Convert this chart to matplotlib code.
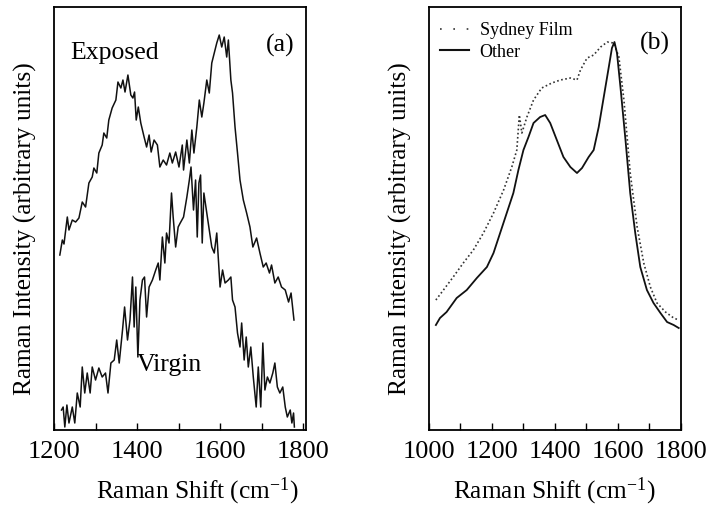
import numpy as np
import matplotlib
matplotlib.use("Agg")
import matplotlib.pyplot as plt
from matplotlib.lines import Line2D
from matplotlib.ticker import MultipleLocator

plt.rcParams["font.family"] = ["Liberation Serif", "DejaVu Serif"]
plt.rcParams["mathtext.fontset"] = "stix"

# panel (a): exposed and virgin film spectra (arbitrary units)
exposed_x = [1214, 1220, 1224, 1232, 1236, 1244, 1252, 1260, 1268, 1276, 1284, 1292,
             1296, 1303, 1308, 1316, 1320, 1327, 1332, 1340, 1349, 1354, 1361, 1366,
             1371, 1378, 1385, 1390, 1394, 1398, 1403, 1409, 1417, 1423, 1429, 1434,
             1441, 1449, 1455, 1463, 1471, 1479, 1485, 1493, 1501, 1509, 1512, 1520,
             1526, 1532, 1537, 1544, 1550, 1556, 1561, 1568, 1574, 1580, 1586, 1592,
             1598, 1604, 1610, 1616, 1620, 1626, 1630, 1636, 1642, 1648, 1656, 1664,
             1672, 1679, 1688, 1696, 1704, 1711, 1719, 1724, 1732, 1740, 1748, 1757,
             1765, 1771, 1778]
exposed_y = [175, 190, 186, 213, 200, 210, 208, 212, 228, 223, 247, 253,
             262, 257, 277, 285, 297, 292, 310, 322, 330, 348, 342, 350,
             338, 355, 335, 332, 338, 310, 323, 307, 293, 283, 295, 278,
             290, 285, 263, 270, 265, 277, 267, 278, 263, 285, 260, 290,
             267, 300, 277, 303, 330, 313, 327, 350, 337, 367, 377, 387,
             395, 383, 393, 373, 390, 350, 337, 303, 277, 250, 230, 217,
             203, 183, 192, 177, 163, 167, 157, 165, 147, 153, 143, 140,
             128, 137, 110]

virgin_x = [1218, 1222, 1226, 1231, 1236, 1244, 1250, 1256, 1263, 1268, 1274, 1280,
            1287, 1292, 1300, 1308, 1316, 1324, 1330, 1337, 1345, 1351, 1357, 1365,
            1370, 1377, 1383, 1389, 1393, 1397, 1402, 1407, 1413, 1418, 1423, 1429,
            1437, 1445, 1451, 1455, 1461, 1467, 1471, 1477, 1483, 1487, 1493, 1499,
            1504, 1512, 1520, 1526, 1530, 1536, 1541, 1545, 1549, 1553, 1557, 1561,
            1568, 1574, 1580, 1586, 1592, 1596, 1600, 1606, 1612, 1620, 1626, 1630,
            1636, 1642, 1648, 1652, 1658, 1663, 1668, 1674, 1680, 1687, 1692, 1698,
            1703, 1708, 1714, 1720, 1727, 1732, 1738, 1744, 1751, 1757, 1762, 1769,
            1773, 1777, 1779]
virgin_y = [20, 23, 3, 25, 7, 23, 7, 37, 23, 63, 37, 57,
            37, 63, 50, 62, 53, 57, 37, 67, 70, 90, 67, 100,
            123, 90, 110, 153, 103, 143, 73, 130, 150, 153, 113, 143,
            150, 160, 167, 150, 193, 167, 197, 187, 237, 213, 183, 203,
            207, 213, 233, 250, 263, 220, 250, 193, 247, 255, 187, 237,
            217, 200, 183, 177, 197, 170, 143, 160, 147, 150, 153, 130,
            123, 97, 83, 107, 70, 93, 63, 83, 53, 23, 63, 23,
            87, 40, 53, 47, 57, 67, 43, 37, 43, 23, 13, 20,
            7, 17, 3]

# panel (b): Sydney film vs other
sydney_x = [1022, 1046, 1077, 1109, 1141, 1173, 1205, 1237, 1263, 1279, 1287, 1295,
            1311, 1332, 1358, 1390, 1417, 1449, 1470, 1481, 1502, 1523, 1545, 1566,
            1587, 1603, 1619, 1639, 1661, 1682, 1703, 1724, 1751, 1777, 1793]
sydney_y = [130, 140, 153, 167, 180, 197, 217, 240, 263, 280, 315, 297,
            313, 330, 342, 347, 350, 352, 350, 360, 372, 375, 383, 388,
            387, 373, 330, 257, 203, 167, 143, 127, 118, 112, 110]

other_x = [1022, 1035, 1056, 1088, 1120, 1152, 1184, 1205, 1226, 1247, 1268, 1284,
           1300, 1316, 1332, 1353, 1369, 1385, 1406, 1427, 1449, 1470, 1486, 1507,
           1523, 1539, 1555, 1571, 1581, 1589, 1597, 1608, 1624, 1639, 1655, 1671,
           1692, 1713, 1735, 1756, 1777, 1793]
other_y = [105, 112, 118, 132, 140, 152, 163, 177, 197, 217, 237, 260,
           280, 293, 307, 313, 315, 307, 290, 273, 263, 257, 262, 273,
           280, 303, 333, 363, 382, 388, 377, 343, 290, 237, 197, 163,
           140, 127, 117, 108, 105, 102]

fig = plt.figure(figsize=(7.09, 5.09), dpi=100)
ax1 = fig.add_axes([0.0762, 0.1552, 0.3554, 0.831])
ax2 = fig.add_axes([0.605, 0.1552, 0.3554, 0.831])

ax1.plot(exposed_x, exposed_y, color="#111111", lw=1.1)
ax1.plot(virgin_x, virgin_y, color="#111111", lw=1.1)
ax1.set_xlim(1200, 1807)

ax2.plot(sydney_x, sydney_y, color="#333333", lw=1.2, linestyle=(0, (1, 1.5)))
ax2.plot(other_x, other_y, color="#111111", lw=1.3)
ax2.set_xlim(1000, 1800)

for ax in (ax1, ax2):
    ax.set_ylim(0, 423)
    ax.set_yticks([])
    ax.xaxis.set_major_locator(MultipleLocator(200))
    ax.xaxis.set_minor_locator(MultipleLocator(100))
    ax.tick_params(axis="x", which="both", direction="in", length=5, width=1,
                   labelsize=19, pad=8)
    for s in ax.spines.values():
        s.set_linewidth(1.3)
    ax.set_ylabel("Raman Intensity (arbitrary units)", fontsize=18.3)
    ax.set_xlabel(r"Raman Shift (cm$^{\mathregular{-1}}$)", fontsize=18.3)
    ax.yaxis.set_label_coords(-0.066, 0.475)

ax1.xaxis.set_label_coords(0.571, -0.108)
ax2.xaxis.set_label_coords(0.5, -0.108)

ax1.text(0.063, 0.891, "Exposed", transform=ax1.transAxes, fontsize=18.5,
         ha="left", va="center")
ax1.text(0.956, 0.91, "(a)", transform=ax1.transAxes, fontsize=18.5,
         ha="right", va="center")
ax1.text(0.329, 0.154, "Virgin", transform=ax1.transAxes, fontsize=18.5,
         ha="left", va="center")
ax2.text(0.956, 0.915, "(b)", transform=ax2.transAxes, fontsize=18.5,
         ha="right", va="center")

handles = [Line2D([], [], color="#333333", lw=1.2, linestyle=(0, (1, 7))),
           Line2D([], [], color="#111111", lw=1.5)]
ax2.legend(handles, ["Sydney Film", "Other"], loc="upper left", frameon=False,
           fontsize=13, handlelength=1.6, handletextpad=0.6, labelspacing=0.25,
           borderaxespad=0.2, bbox_to_anchor=(0.0, 0.99))

fig.savefig("out.png", dpi=100)
